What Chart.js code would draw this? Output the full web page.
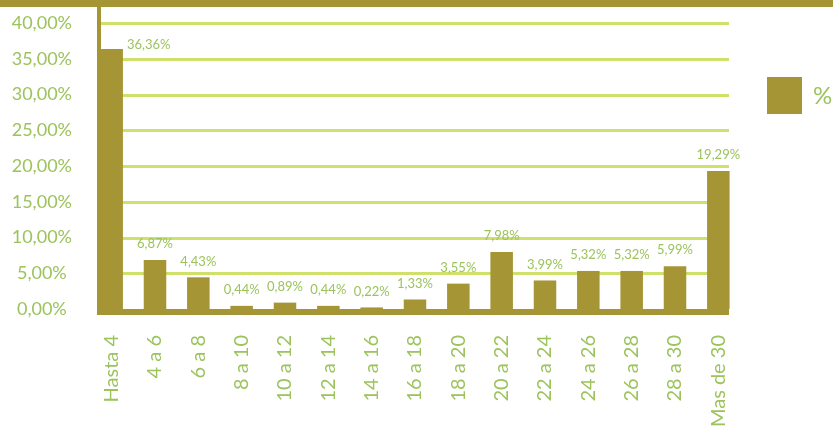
<!DOCTYPE html>
<html>
<head>
<meta charset="utf-8">
<style>
  html, body { margin: 0; padding: 0; background: #fff; }
  #wrap { width: 833px; height: 436px; position: relative; }
</style>
<script src="https://cdn.jsdelivr.net/npm/chart.js@4.4.1/dist/chart.umd.min.js"></script>
</head>
<body>
<div id="wrap"><canvas id="myChart"></canvas></div>
<script>
const categories = ['Hasta 4', '4 a 6', '6 a 8', '8 a 10', '10 a 12', '12 a 14', '14 a 16', '16 a 18',
                    '18 a 20', '20 a 22', '22 a 24', '24 a 26', '26 a 28', '28 a 30', 'Mas de 30'];
const values = [36.36, 6.87, 4.43, 0.44, 0.89, 0.44, 0.22, 1.33, 3.55, 7.98, 3.99, 5.32, 5.32, 5.99, 19.29];
const seriesName = '%';
const yMin = 0, yMax = 40, yStep = 5;

const barColor = '#a69535';
const gridColor = '#cfe06b';
const textColor = '#9cc35c';
const fontFamily = "Lato, 'Open Sans', sans-serif";
const fontWeight = 'normal';

const fmt = (v) => v.toFixed(2).replace('.', ',') + '%';

// grid, frame, value labels and legend
const decor = {
  id: 'decor',
  beforeDatasetsDraw(chart) {
    const { ctx, chartArea, scales: { y } } = chart;
    const l = chartArea.left + 11, r = chartArea.right - 11;
    ctx.save();
    ctx.strokeStyle = gridColor;
    ctx.lineWidth = 3;
    y.ticks.forEach(t => {
      if (t.value === 0) return;
      const py = Math.round(y.getPixelForValue(t.value)) + 0.5;
      ctx.beginPath(); ctx.moveTo(l, py); ctx.lineTo(r, py); ctx.stroke();
    });
    ctx.restore();
  },
  afterDatasetsDraw(chart) {
    const { ctx, chartArea, scales: { y } } = chart;
    const base = y.getPixelForValue(0);
    const r = chartArea.right - 11;
    ctx.save();
    ctx.fillStyle = barColor;
    ctx.fillRect(0, 0, chart.width, 7);
    ctx.fillRect(chartArea.left + 7, 0, 4, base + 6);
    ctx.fillRect(chartArea.left + 7, base, r - chartArea.left - 7, 6);

    ctx.fillStyle = textColor;
    ctx.font = fontWeight + ' 13px ' + fontFamily;
    ctx.textBaseline = 'middle';
    chart.getDatasetMeta(0).data.forEach((bar, i) => {
      const txt = fmt(values[i]);
      if (values[i] > 30) {
        ctx.textAlign = 'left';
        ctx.fillText(txt, bar.x + bar.width / 2 + 4, bar.y - 4);
      } else {
        ctx.textAlign = 'center';
        ctx.fillText(txt, bar.x, bar.y - 16);
      }
    });

    // legend
    const lx = chartArea.right + 27;
    ctx.fillStyle = barColor;
    ctx.fillRect(lx, 77, 35, 37);
    ctx.fillStyle = textColor;
    ctx.font = fontWeight + ' 24px ' + fontFamily;
    ctx.textAlign = 'left';
    ctx.fillText(seriesName, lx + 46, 96);
    ctx.restore();
  }
};

const ctx = document.getElementById('myChart');

new Chart(ctx, {
  type: 'bar',
  plugins: [decor],
  data: {
    labels: categories,
    datasets: [{
      label: seriesName,
      data: values,
      backgroundColor: barColor,
      borderWidth: 0,
      barPercentage: 0.52,
      categoryPercentage: 1
    }]
  },
  options: {
    responsive: true,
    maintainAspectRatio: false,
    animation: false,
    layout: { padding: { top: 23, right: 93, left: 0, bottom: 0 } },
    scales: {
      x: {
        grid: { display: false, drawTicks: false },
        border: { display: false },
        ticks: {
          color: textColor,
          font: { family: fontFamily, size: 20, weight: fontWeight },
          minRotation: 90,
          maxRotation: 90,
          autoSkip: false,
          padding: 26
        },
        afterFit: (s) => { s.height = 127; }
      },
      y: {
        min: yMin,
        max: yMax,
        grid: { display: false, drawTicks: false },
        border: { display: false },
        ticks: {
          stepSize: yStep,
          color: textColor,
          font: { family: fontFamily, size: 18, weight: fontWeight },
          crossAlign: 'center',
          padding: 18,
          callback: (v) => fmt(v)
        },
        afterFit: (s) => { s.width = 90; s.paddingTop = 0; s.paddingBottom = 0; }
      }
    },
    plugins: {
      legend: { display: false },
      tooltip: { enabled: false }
    }
  }
});
</script>
</body>
</html>
